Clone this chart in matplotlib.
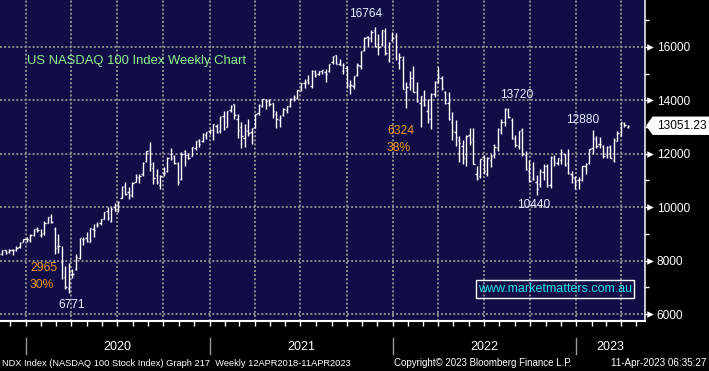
import matplotlib
matplotlib.use('Agg')
import matplotlib.pyplot as plt
import matplotlib.dates as mdates
import matplotlib.transforms as mtransforms
from matplotlib.patches import Polygon, Rectangle
from matplotlib.ticker import FixedLocator
import numpy as np
import pandas as pd

# ---------------- data (weekly OHLC, week ending Friday) ----------------
week_start = '2019-11-08'
opens = [8180, 8240, 8390, 8310, 8400, 8410, 8500, 8690,
         8800, 8760, 8960, 9180, 8960, 9030, 9410, 9640, 9200, 8550, 7950, 7400, 6990, 7500, 7700, 8100,
         8800, 8850, 8700, 9200, 9320, 9390, 9560, 9860, 9500, 10000, 9870, 10350, 10800, 10560, 10470,
         10950, 11110, 11230, 11720, 12150, 11450, 11220, 10850, 11250, 11350, 12000, 11900, 11610,
         11050, 12100, 11940, 11930, 12230, 12500, 12480, 12700,
         12840, 12900, 13050, 12850, 13400, 13000, 13650, 13850, 13300, 13000, 12600, 12850, 12800,
         13000, 13530, 13800, 14000, 14020, 13900, 13500, 13280, 13450, 13650, 13790, 14050, 14100,
         14410, 14660, 14750, 14550, 15100, 15000, 15100, 15080, 15100, 15420, 15690, 15380, 15100,
         15200, 14550, 14550, 14950, 15280, 15900, 16380, 16350, 16650, 16100, 16100, 16600, 15500, 16250,
         16400, 15400, 15500, 14300, 14600, 14850, 14300, 13900, 14000, 13600, 13320, 14250,
         14720, 14850, 14300, 13900, 13200, 12800, 12500, 12300, 12000, 12700, 12550, 11250, 11150,
         11870, 11250, 11760, 11950, 12210, 12900, 13200, 13650, 13250, 12570, 12280, 12900, 11950, 11350,
         11050, 10950, 10880, 11300, 11550, 10820, 11850, 11650, 11760, 11980, 11650, 11240, 11100,
         11000, 11000, 11540, 11650, 12200, 12550, 12350, 12300, 11940, 12250, 11780, 12470, 12750,
         13150, 13010]
highs = [8260, 8390, 8410, 8430, 8420, 8530, 8690, 8810,
         8870, 8980, 9180, 9260, 9200, 9470, 9630, 9736, 9250, 9000, 8560, 7800, 7900, 7700, 8250, 8860,
         8900, 9060, 9230, 9360, 9450, 9560, 9830, 10020, 10010, 10140, 10230, 10790, 10950, 10750, 10930,
         11250, 11240, 11680, 12120, 12439, 11680, 11430, 11220, 11520, 11870, 12200, 11950, 11700,
         12060, 12130, 12030, 12270, 12470, 12540, 12780, 12820,
         12930, 13110, 13100, 13400, 13590, 13620, 13810, 13880, 13500, 13180, 13100, 13300, 12980,
         13490, 13850, 14060, 14060, 14060, 13920, 13600, 13440, 13700, 13790, 14080, 14190, 14400,
         14660, 14790, 14960, 15130, 15150, 15110, 15150, 15190, 15380, 15660, 15700, 15560, 15400,
         15300, 14750, 14910, 15400, 15860, 16370, 16400, 16650, 16764, 16480, 16640, 16700, 16170, 16573,
         16520, 15780, 15650, 14680, 15100, 15270, 14700, 14170, 14400, 14060, 14270, 14720,
         15265, 14930, 14350, 14300, 13580, 13260, 12650, 12520, 12700, 12950, 12950, 11560, 11800,
         11970, 11890, 11990, 12380, 12950, 13300, 13700, 13720, 13350, 12690, 12870, 12950, 12120, 11760,
         11700, 11200, 11420, 11600, 11620, 11900, 11970, 11860, 12170, 12010, 12170, 11360, 11150,
         11120, 11560, 11660, 12170, 12880, 12660, 12630, 12330, 12300, 12330, 12600, 12870, 13180,
         13200, 13090]
lows = [8150, 8200, 8250, 8290, 8210, 8370, 8490, 8680,
        8700, 8700, 8920, 9080, 8900, 8960, 9390, 9420, 8260, 8300, 7300, 6920, 6771, 7340, 7650, 8050,
        8600, 8690, 8680, 8900, 9250, 9330, 9540, 9520, 9430, 9840, 9830, 10330, 10470, 10320, 10380,
        10950, 10900, 11180, 11700, 11350, 10870, 10880, 10680, 11160, 11300, 11780, 11630, 10830,
        11000, 11550, 11800, 11900, 12150, 12250, 12450, 12570,
        12760, 12500, 12790, 12770, 12900, 12990, 13580, 13300, 12600, 12200, 12250, 12650, 12380,
        12970, 13450, 13760, 13690, 13780, 13350, 12970, 13000, 13400, 13540, 13770, 13960, 14050,
        14350, 14460, 14620, 14450, 14860, 14950, 14990, 14700, 15080, 15380, 15360, 15320, 14970,
        14480, 14250, 14420, 14900, 15170, 15840, 16050, 16200, 15990, 15700, 16020, 15700, 15450, 16240,
        15530, 15170, 14430, 13720, 14380, 14300, 13950, 13020, 13780, 13170, 12940, 14130,
        14650, 14400, 13850, 13260, 12530, 12300, 11680, 11600, 11560, 12340, 11600, 11037, 11100,
        11230, 11170, 11500, 11830, 12120, 12760, 13050, 13330, 12560, 12240, 12170, 11900, 11410, 10960,
        11000, 10440, 10740, 11000, 10760, 10710, 11530, 11570, 11620, 11560, 11230, 10920, 10671,
        10700, 10990, 11250, 11620, 11980, 12230, 12230, 11860, 11860, 11830, 11700, 12470, 12650,
        12990, 12950]
closes = [8233, 8386, 8300, 8403, 8410, 8488, 8677, 8803,
          8793, 8947, 9173, 9145, 8992, 9402, 9623, 9446, 8462, 8530, 7995, 7006, 7587, 7487, 8153, 8833,
          8810, 8718, 9213, 9152, 9325, 9555, 9825, 9588, 9946, 9849, 10207, 10768, 10503, 10461, 10905,
          11139, 11186, 11665, 12110, 11622, 11088, 10936, 11168, 11265, 11853, 11852, 11666, 10937,
          12006, 11937, 11854, 12258, 12465, 12376, 12756, 12805,
          12888, 13105, 12804, 13367, 12925, 13612, 13807, 13457, 12909, 12668, 12900, 12780, 12950,
          13480, 13845, 14041, 13996, 13860, 13621, 13316, 13334, 13686, 13773, 14069, 14142, 14393,
          14640, 14701, 14643, 15113, 14959, 15094, 15129, 15007, 15375, 15653, 15364, 15332, 15316,
          14566, 14579, 14899, 15335, 15850, 16349, 16323, 16573, 16025, 15985, 16631, 15784, 16145, 16320,
          15604, 15611, 14439, 14484, 14856, 14307, 13992, 14147, 13838, 13302, 14254, 14693,
          14862, 14472, 13895, 13288, 12854, 12621, 12387, 11835, 12681, 12443, 11621, 11084, 11787,
          11357, 11836, 11912, 12272, 12947, 13207, 13694, 13360, 12608, 12330, 12858, 11979, 11431, 10971,
          11039, 10693, 11369, 11560, 10848, 11891, 11693, 11843, 12054, 11569, 11266, 11148, 10940,
          11041, 11542, 11620, 12166, 12574, 12304, 12358, 11918, 12268, 11831, 12519, 12767, 13181,
          13062, 13051.23]

y_major = [6000, 8000, 10000, 12000, 14000, 16000]
y_minor = [7000, 9000, 11000, 13000, 15000, 17000]
years = ['2020', '2021', '2022', '2023']
last_price = 13051.23

title = 'US NASDAQ 100 Index Weekly Chart'
peak_label, trough1_label, high22_label, low22_label, high23_label = '16764', '6771', '13720', '10440', '12880'
drop1_pts, drop1_pct = '2965', '30%'
drop2_pts, drop2_pct = '6324', '38%'
watermark = 'www.marketmatters.com.au'
footer_left = 'NDX Index (NASDAQ 100 Stock Index) Graph 217  Weekly 12APR2018-11APR2023'
footer_mid = 'Copyright\u00a9 2023 Bloomberg Finance L.P.'
footer_right = '11-Apr-2023 06:35:27'

# ---------------- figure ----------------
W, H = 709, 371
fig = plt.figure(figsize=(W / 100, H / 100), dpi=100)
fig.patch.set_facecolor('black')
plt.rcParams['font.family'] = ['Liberation Sans', 'DejaVu Sans']

ax = fig.add_axes([0, 50 / H, 645 / W, 321 / H])
BG = '#100d47'
ax.set_facecolor(BG)

dates = pd.date_range(week_start, periods=len(closes), freq='W-FRI')
x = mdates.date2num(dates)
wt = 2.6
ax.vlines(x, lows, highs, color='white', lw=1.0, zorder=3)
ax.hlines(opens, x - wt, x, color='white', lw=1.0, zorder=3)
ax.hlines(closes, x, x + wt, color='white', lw=1.0, zorder=3)

xmin = mdates.date2num(pd.Timestamp('2019-11-10 16:00'))
xmax = mdates.date2num(pd.Timestamp('2023-05-18'))
ax.set_xlim(xmin, xmax)
ax.set_ylim(5738, 17760)

# y axis
ax.yaxis.tick_right()
ax.yaxis.set_major_locator(FixedLocator(y_major))
ax.yaxis.set_minor_locator(FixedLocator(y_minor))
ax.tick_params(axis='y', which='major', length=0, pad=8.5, labelsize=8.6, labelcolor='white')
ax.tick_params(axis='y', which='minor', length=3.2, width=1.0, color='white', direction='out')
ax.yaxis.set_major_formatter(matplotlib.ticker.FuncFormatter(lambda v, p: f'{int(v)}'))
blend = mtransforms.blended_transform_factory(ax.transAxes, ax.transData)
ax.scatter([1.0085] * len(y_major), y_major, marker='>', s=22, color='white',
           transform=blend, clip_on=False, zorder=5, linewidths=0)
for v in y_major:
    ax.plot([1.0, 1.008], [v, v], color='white', lw=1.0, transform=blend, clip_on=False)

# x axis
ax.xaxis.set_major_locator(mdates.MonthLocator(bymonth=[1, 4, 7, 10]))
ax.xaxis.set_minor_locator(mdates.MonthLocator())
ax.tick_params(axis='x', which='both', length=3.5, width=1.0, color='white', direction='out',
               labelbottom=False)

ax.grid(True, which='major', axis='both', color='#8e8e8e', linestyle=(0, (1, 1.1)), linewidth=1.4, zorder=1)
ax.set_axisbelow(True)

for s in ['top', 'left']:
    ax.spines[s].set_visible(False)
ax.spines['right'].set_color('white')
ax.spines['right'].set_linewidth(1.1)
ax.spines['bottom'].set_color('white')
ax.spines['bottom'].set_linewidth(1.5)

# year labels and separators (below the axis)
xblend = mtransforms.blended_transform_factory(ax.transData, fig.transFigure)
for i, yr in enumerate(years):
    start = mdates.date2num(pd.Timestamp(f'{yr}-01-01'))
    end = min(mdates.date2num(pd.Timestamp(f'{int(yr) + 1}-01-01')), xmax)
    ax.text((start + end) / 2, 1 - 347 / H, yr, transform=xblend, ha='center', va='center',
            color='white', fontsize=9, clip_on=False)
    ax.plot([start, start], [1 - 338 / H, 1 - 354 / H], color='#9a9a9a', lw=1.0,
            transform=xblend, clip_on=False)


def ftext(px, py, s, **kw):
    fig.text(px / W, 1 - py / H, s, **kw)


LIGHT = '#e6eeff'
ORANGE = '#f0961e'
ftext(27, 61, title, color='#8ef08a', fontsize=9.4, ha='left', va='center')
ftext(366, 14, peak_label, color=LIGHT, fontsize=8.6, ha='center', va='center')
ftext(387, 131, drop2_pts, color=ORANGE, fontsize=8.7, ha='left', va='center')
ftext(387, 148, drop2_pct, color=ORANGE, fontsize=8.7, ha='left', va='center')
ftext(517, 95, high22_label, color=LIGHT, fontsize=8.6, ha='center', va='center')
ftext(583, 120, high23_label, color=LIGHT, fontsize=8.6, ha='center', va='center')
ftext(534, 205, low22_label, color=LIGHT, fontsize=8.6, ha='center', va='center')
ftext(30, 268, drop1_pts, color=ORANGE, fontsize=8.7, ha='left', va='center')
ftext(30, 285, drop1_pct, color=ORANGE, fontsize=8.7, ha='left', va='center')
ftext(72, 305, trough1_label, color=LIGHT, fontsize=8.6, ha='center', va='center')

# watermark box
fig.patches.append(Rectangle((476 / W, 1 - 298 / H), (634 - 476) / W, 18 / H, transform=fig.transFigure,
                             facecolor='none', edgecolor='white', lw=1.0))
ftext(555, 289, watermark, color='#22e4ee', fontsize=9, ha='center', va='center')

# last price tag
hh = 8.5 * (17760 - 5738) / 321
poly = Polygon([(1.003, last_price), (1.0124, last_price + hh), (1.2, last_price + hh),
                (1.2, last_price - hh), (1.0124, last_price - hh)], closed=True,
               transform=blend, facecolor='white', edgecolor='white', clip_on=False, zorder=6)
ax.add_patch(poly)
ax.text(1.0565, last_price, f'{last_price:.2f}', transform=blend, color='black', fontsize=8.6,
        ha='center', va='center', clip_on=False, zorder=7)

# footer, fitted to the reference widths
renderer = fig.canvas.get_renderer()


def fit_text(px, py, s, target_w, ha):
    t = fig.text(px / W, 1 - py / H, s, color='white', fontsize=7, ha=ha, va='center')
    w = t.get_window_extent(renderer).width
    t.set_fontsize(7 * target_w / w)
    return t


fit_text(2, 363, footer_left, 348, 'left')
fit_text(394, 363, footer_mid, 179, 'left')
fit_text(706, 363, footer_right, 95, 'right')

fig.savefig('out.png', dpi=100, facecolor=fig.get_facecolor())
